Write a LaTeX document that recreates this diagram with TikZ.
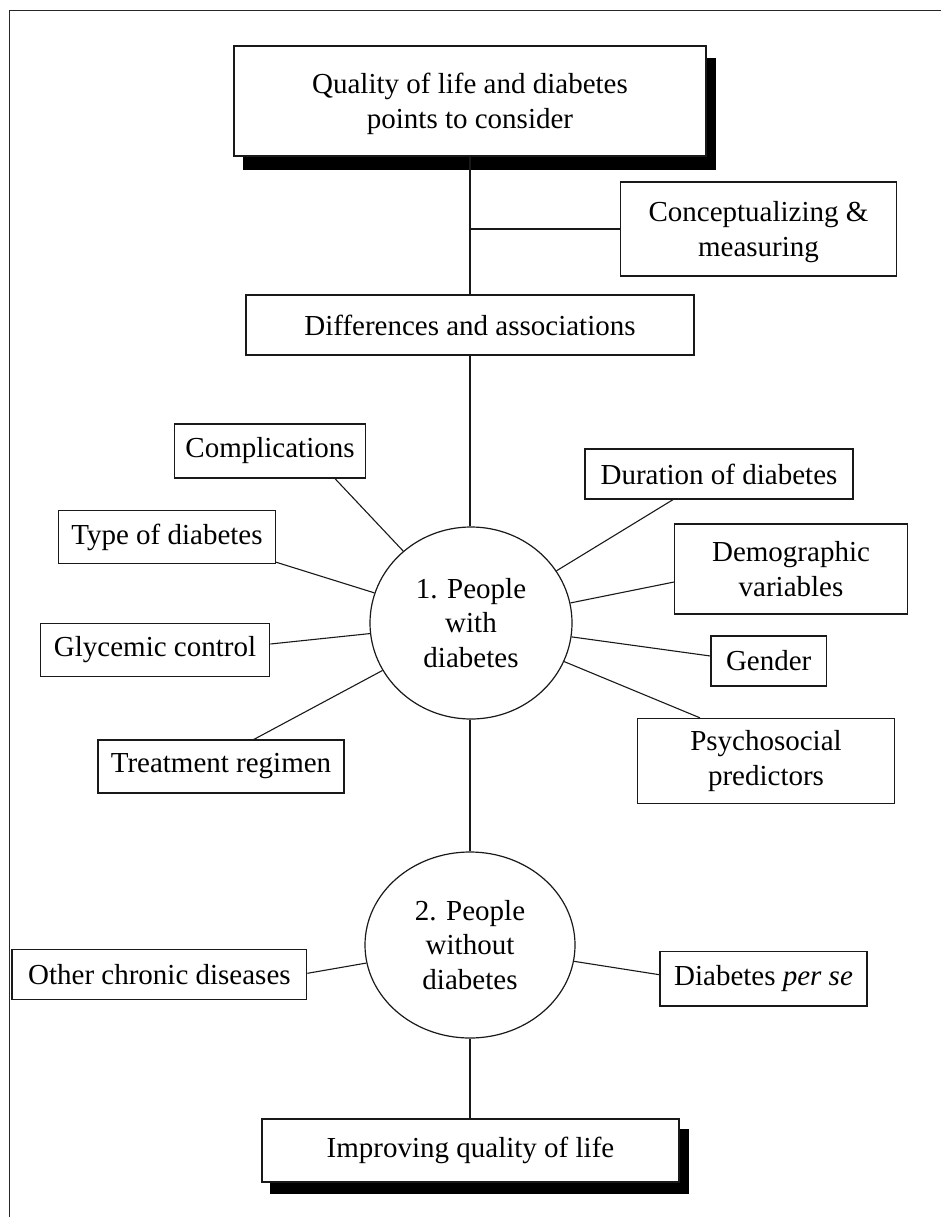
\documentclass[tikz,border=0pt]{standalone}
\usepackage{fontspec}
\setmainfont{Liberation Serif}
\usetikzlibrary{shapes.geometric,calc,backgrounds}
\begin{document}
\begin{tikzpicture}[x=1pt,y=-1pt,
  txt/.style={font=\fontsize{29}{34.5}\selectfont},
  box/.style={txt, draw=black!90, line width=1.3pt, fill=white, inner sep=0pt, align=center},
  lowtext/.style={text height=61pt},
  oval/.style={txt, ellipse, draw=black!90, line width=1.2pt, fill=white, inner sep=0pt, align=center},
  link/.style={draw=black!90, line width=1.1pt},
  shadowbox/.style={fill=black}
]
\useasboundingbox (0,0) rectangle (941,1217);
% outer frame
\draw[line width=1.6pt, black!85] (9.6,1240) -- (9.6,10.7) -- (960,10.7);

% main nodes
\node[box, lowtext, minimum width=472pt, minimum height=110pt] (title) at (470,101) {Quality of life and diabetes\\points to consider};
\node[box, lowtext, minimum width=276pt, minimum height=94pt] (concept) at (758.5,229) {Conceptualizing \&\\measuring};
\node[box, minimum width=448pt, minimum height=60pt] (diff) at (470,325) {Differences and associations};
\node[oval, minimum width=202pt, minimum height=192pt] (e1) at (471,623) {1. People\\with\\diabetes};
\node[oval, minimum width=210pt, minimum height=186pt] (e2) at (470,945) {2. People\\without\\diabetes};
\node[box, minimum width=417pt, minimum height=63pt] (improve) at (470.5,1150.5) {Improving quality of life};

% satellites of e1
\node[box, minimum width=191.5pt, minimum height=54pt] (comp) at (270,451) {Complications};
\node[box, minimum width=216.5pt, minimum height=53pt] (type) at (167,537) {Type of diabetes};
\node[box, minimum width=229.5pt, minimum height=52.6pt] (glyc) at (155,650) {Glycemic control};
\node[box, minimum width=246pt, minimum height=53pt] (treat) at (221,766.5) {Treatment regimen};
\node[box, minimum width=268pt, minimum height=50pt] (dur) at (719,474) {Duration of diabetes};
\node[box, minimum width=232.5pt, minimum height=90pt] (demo) at (791,569) {Demographic\\variables};
\node[box, minimum width=115.4pt, minimum height=50pt] (gender) at (768.7,661) {Gender};
\node[box, minimum width=257.4pt, minimum height=85pt] (psych) at (766,761) {Psychosocial\\predictors};

% satellites of e2
\node[box, minimum width=294.7pt, minimum height=50pt] (other) at (159.4,974.3) {Other chronic diseases};
\node[box, minimum width=207pt, minimum height=54.7pt] (dps) at (763.5,978.7) {Diabetes \textit{per se}};

% shadows
\begin{scope}[on background layer]
  \fill[shadowbox] ($(title.south west)+(9.5,13)$) rectangle ($(title.north east)+(9.5,13)$);
  \fill[shadowbox] ($(improve.south west)+(9,11)$) rectangle ($(improve.north east)+(9,11)$);
\end{scope}

% trunk
\coordinate (br) at (title.south |- concept.west);
\draw[link] (title.south) -- (diff.north);
\draw[link] (br) -- (concept.west);
\draw[link] (diff.south) -- (diff.south |- e1.north);
\draw[link] (e1.south -| diff.south) -- (e2.north);
\draw[link] (e2.south) -- (improve.north -| e2.south);

% spokes of e1
\draw[link] ($(comp.south)+(65,0)$) -- (e1);
\draw[link] ($(type.south east)+(0,-2)$) -- (e1);
\draw[link] ($(glyc.east)+(0,-6)$) -- (e1);
\draw[link] ($(treat.north)+(33,0)$) -- (e1);
\draw[link] ($(dur.south)+(-46,0)$) -- (e1);
\draw[link] ($(demo.west)+(0,13)$) -- (e1);
\draw[link] ($(gender.west)+(0,-5)$) -- (e1);
\draw[link] ($(psych.north)+(-66,0)$) -- (e1);

% spokes of e2
\draw[link] ($(other.east)+(0,-1)$) -- (e2);
\draw[link] ($(dps.west)+(0,-4)$) -- (e2);
\end{tikzpicture}
\end{document}
